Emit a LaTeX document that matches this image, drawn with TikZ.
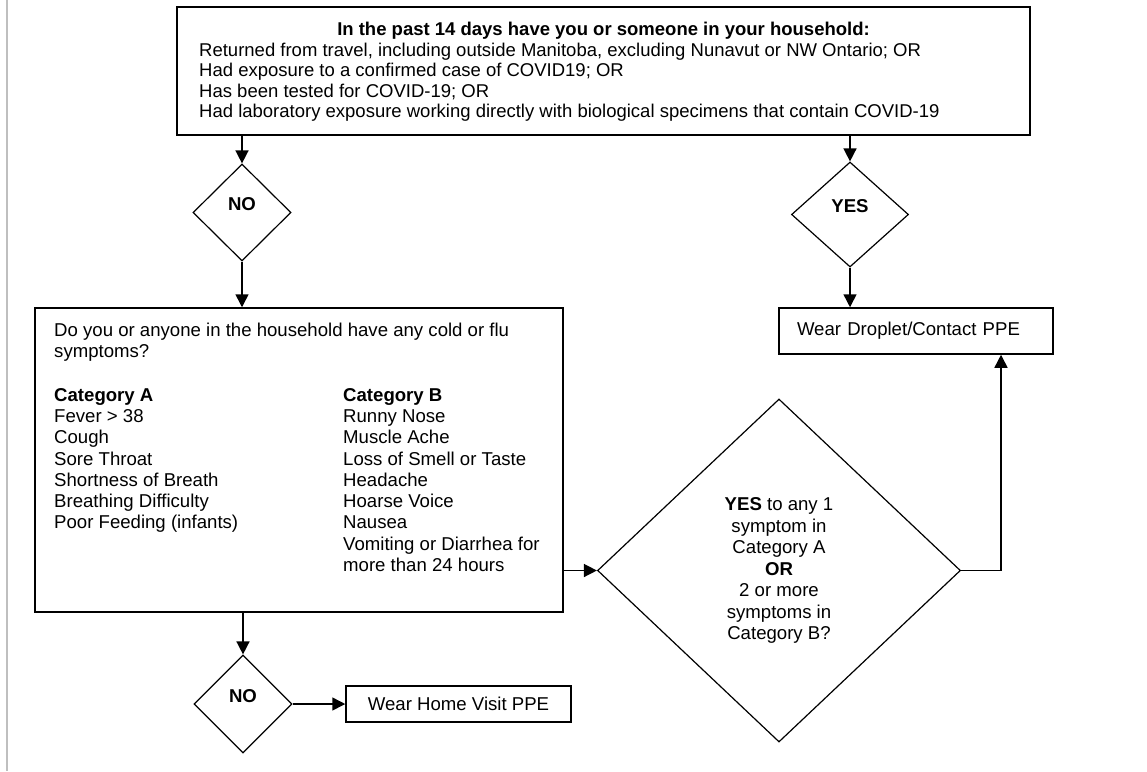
\documentclass[tikz,border=0pt]{standalone}
\usepackage{fontspec}
\setmainfont{Liberation Sans}
\usetikzlibrary{arrows.meta, shapes.geometric, positioning}

\begin{document}
\begin{tikzpicture}[x=1pt, y=-1pt, >={Triangle[length=13pt,width=13pt]},
  every node/.style={font=\fontsize{18.6}{21.3}\selectfont},
  box/.style={draw, line width=1.5pt, inner sep=0pt},
  pick/.style={draw, diamond, line width=1.2pt, inner sep=0pt, font=\fontsize{18.6}{21.3}\selectfont\bfseries},
  txt/.style={anchor=north west, inner sep=0pt, align=left},
  flow/.style={->, line width=1.5pt}]
  \useasboundingbox (0,0) rectangle (1147,771);
  \draw[black!25, line width=2pt] (7,0) -- (7,771);
  % screening question
  \node[box, minimum width=853pt, minimum height=128pt] (past) at (603.5,71) {};
  \node[anchor=base, inner sep=0pt, font=\fontsize{18.5}{20.6}\selectfont\bfseries] (pasttitle) at (603.5,35.7)
    {In the past 14 days have you or someone in your household:};
  \node[txt, font=\fontsize{18.5}{20.6}\selectfont] (pastlist) at (199,42.5)
    {Returned from travel, including outside Manitoba, excluding Nunavut or NW Ontario; OR\\
     Had exposure to a confirmed case of COVID19; OR\\
     Has been tested for COVID-19; OR\\
     Had laboratory exposure working directly with biological specimens that contain COVID-19};
  % answers
  \node[pick, minimum width=98pt, minimum height=97pt, text depth=16pt] (no1) at (242,212.5) {NO};
  \node[pick, minimum width=117pt, minimum height=105pt, text depth=16pt] (yes1) at (850,214.5) {YES};
  % symptoms
  \node[box, minimum width=528pt, minimum height=304pt] (symq) at (299,460) {};
  \node[txt] (symqtext) at (54,323)
    {Do you or anyone in the household have any cold or flu\\symptoms?};
  \node[txt] (catA) at (54,388)
    {\textbf{Category A}\\Fever > 38\\Cough\\Sore Throat\\Shortness of Breath\\Breathing Difficulty\\Poor Feeding (infants)};
  \node[txt] (catB) at (343,388)
    {\textbf{Category B}\\Runny Nose\\Muscle Ache\\Loss of Smell or Taste\\Headache\\Hoarse Voice\\Nausea\\Vomiting or Diarrhea for\\more than 24 hours};
  \node[pick, font=\fontsize{18.6}{21.5}\selectfont, align=center, minimum width=363pt, minimum height=343pt] (mult) at (779,570.5)
    {\textbf{YES} to any 1\\symptom in\\Category A\\\textbf{OR}\\2 or more\\symptoms in\\Category B?};
  \node[pick, minimum width=98pt, minimum height=98pt, text depth=16pt] (no2) at (243,704) {NO};
  % outcomes
  \node[box, minimum width=274pt, minimum height=46pt, text width=238pt, align=left] (drop) at (916,331) {Wear Droplet/Contact PPE};
  \node[box, minimum width=225pt, minimum height=36pt] (home) at (458.5,704) {Wear Home Visit PPE};
  \coordinate (bend) at (1001,570.5);
  % connectors
  \draw[flow] (past.south -| no1.north) -- (no1.north);
  \draw[flow] (past.south -| yes1.north) -- (yes1.north);
  \draw[flow] (no1.south) -- (no1.south |- symq.north);
  \draw[flow] (yes1.south) -- (yes1.south |- drop.north);
  \draw[flow] (symq.east |- mult.west) -- (mult.west);
  \draw[flow] (no2.north |- symq.south) -- (no2.north);
  \draw[flow] (no2.east) -- (home.west);
  \draw[flow] (mult.east) -- (bend) -- (bend |- drop.south);
\end{tikzpicture}
\end{document}
